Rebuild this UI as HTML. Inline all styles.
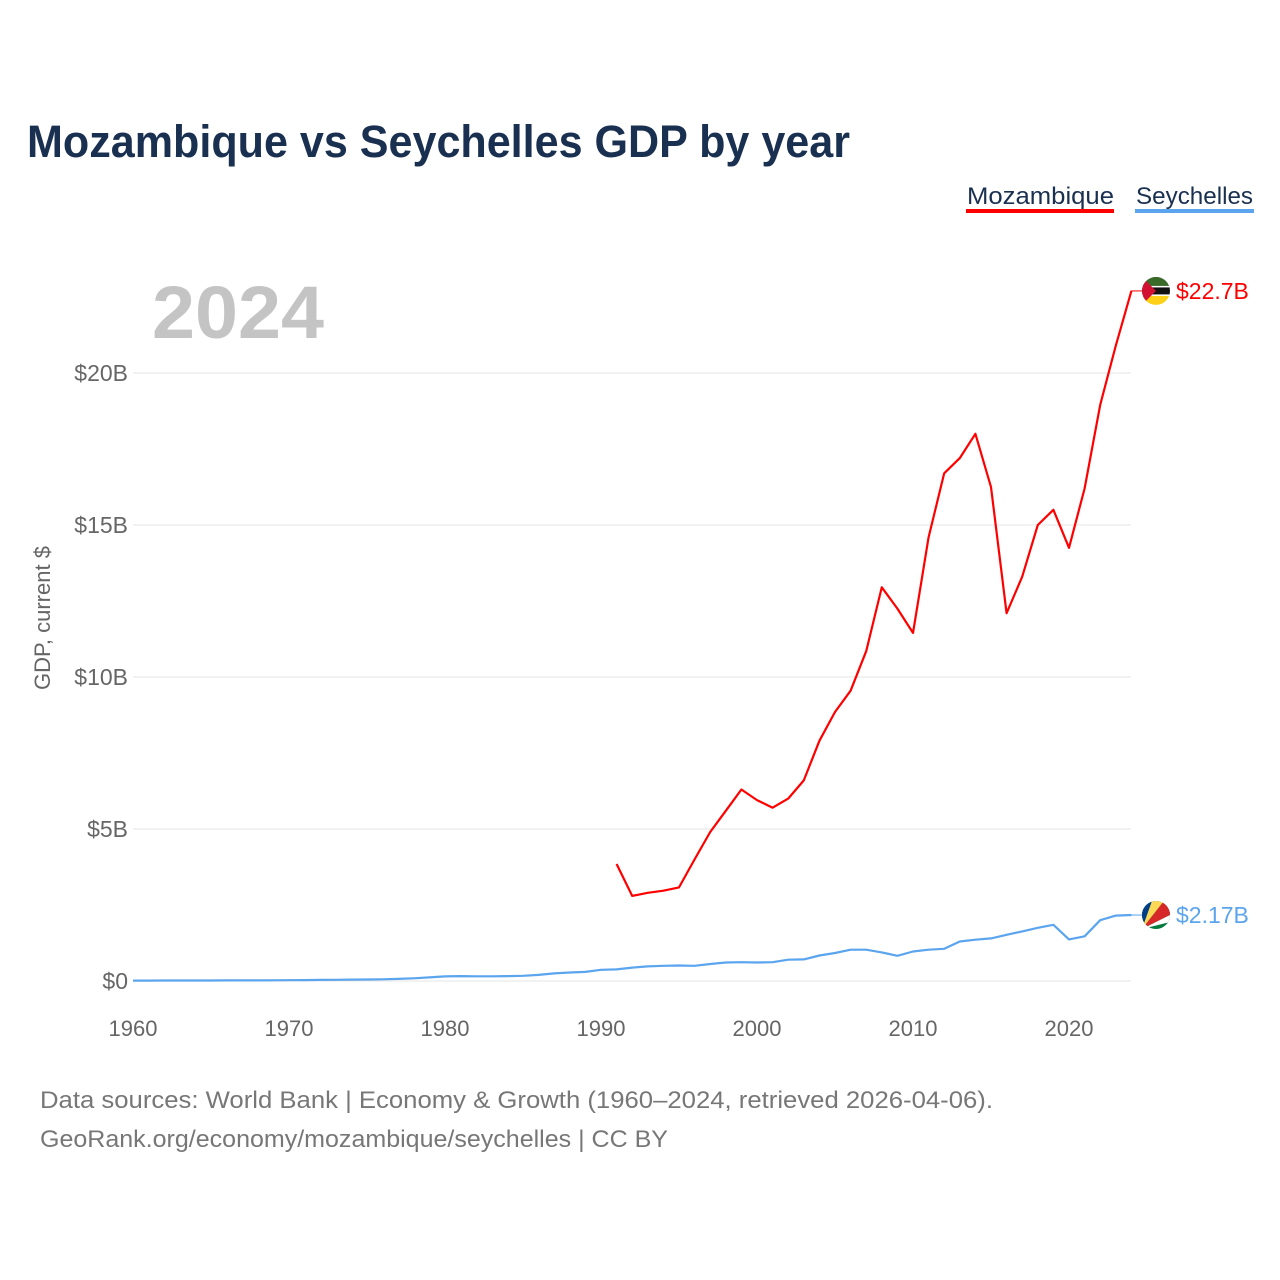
<!DOCTYPE html>
<html><head><meta charset="utf-8"><style>
body{margin:0;background:#fff;width:1280px;height:1280px;overflow:hidden;font-family:"Liberation Sans",sans-serif}
</style></head><body>
<svg width="1280" height="1280" style="position:absolute;left:0;top:0">
<text x="27" y="157" font-size="45" font-weight="bold" fill="#1a3050" textLength="823" lengthAdjust="spacingAndGlyphs">Mozambique vs Seychelles GDP by year</text>
<g><text x="967" y="204" font-size="24" fill="#1a3050" textLength="147" lengthAdjust="spacingAndGlyphs">Mozambique</text><rect x="966" y="209" width="148" height="4" fill="#ff0000"/></g>
<g><text x="1136" y="204" font-size="24" fill="#1a3050" textLength="117" lengthAdjust="spacingAndGlyphs">Seychelles</text><rect x="1135" y="209" width="119" height="4" fill="#5ba4ee"/></g>
<text x="152" y="338" font-size="74" font-weight="bold" fill="#c4c4c4" textLength="172" lengthAdjust="spacingAndGlyphs">2024</text>
<text transform="translate(50,618) rotate(-90)" text-anchor="middle" font-size="22" fill="#666">GDP, current $</text>
<g id="grid"></g><g id="series"></g>
<text x="40" y="1108" font-size="24" fill="#777" textLength="953" lengthAdjust="spacingAndGlyphs">Data sources: World Bank | Economy &amp; Growth (1960–2024, retrieved 2026-04-06).</text>
<text x="40" y="1147" font-size="24" fill="#777" textLength="628" lengthAdjust="spacingAndGlyphs">GeoRank.org/economy/mozambique/seychelles | CC BY</text>
</svg>
<script>
const yTicks=[0,5,10,15,20];
const yTickLabels=["$0","$5B","$10B","$15B","$20B"];
const xTicks=[1960,1970,1980,1990,2000,2010,2020];
const mozStart=1991;
const mozValues=[3.85,2.8,2.9,2.97,3.08,4.0,4.9,5.6,6.3,5.95,5.7,6.0,6.6,7.9,8.85,9.55,10.85,12.95,12.25,11.45,14.6,16.7,17.2,18.0,16.25,12.1,13.3,15.0,15.5,14.25,16.2,18.95,20.9,22.7];
const seyStart=1960;
const seyValues=[.013,.014,.015,.016,.017,.018,.019,.02,.02,.022,.025,.03,.035,.04,.045,.05,.055,.07,.09,.12,.15,.16,.155,.155,.16,.17,.2,.25,.28,.3,.37,.38,.44,.48,.5,.51,.5,.56,.61,.62,.61,.62,.7,.71,.84,.92,1.03,1.03,.94,.83,.97,1.03,1.06,1.3,1.36,1.4,1.52,1.63,1.75,1.85,1.37,1.47,2.0,2.15,2.17];
const endLabels=["$22.7B","$2.17B"];
const NS="http://www.w3.org/2000/svg";
const X=y=>133+(y-1960)*15.6;
const Y=v=>981-v*30.4;
function mk(t,a,p){const e=document.createElementNS(NS,t);for(const k in a)e.setAttribute(k,a[k]);p.appendChild(e);return e;}
const g=document.getElementById('grid'),s=document.getElementById('series');
yTicks.forEach((v,i)=>{
 const l=mk('line',{x1:133,x2:1131,y1:Y(v),y2:Y(v),stroke:'#e6e6e6','stroke-width':1},g);
 
 
 const t=mk('text',{x:128,y:Y(v)+8,'text-anchor':'end','font-size':23,fill:'#666'},g);t.textContent=yTickLabels[i];
 
 
});
xTicks.forEach(y=>{
 const t=mk('text',{x:X(y),y:1036,'text-anchor':'middle','font-size':22,fill:'#666'},g);t.textContent=y;
 
 
});
function line(vals,start,color,name){
 const d=vals.map((v,i)=>(i?'L':'M')+X(start+i).toFixed(1)+','+Y(v).toFixed(1)).join('');
 const p=mk('path',{d:d,fill:'none',stroke:color,'stroke-width':2.2,'stroke-linejoin':'round'},s);
 
 
}
line(seyValues,seyStart,'#5ba4ee','seychelles-line');
line(mozValues,mozStart,'#ff0000','mozambique-line');
function endMark(v,color,label,name,flag){
 const y=Y(v);
 mk('line',{x1:1131,x2:1142,y1:y,y2:y,stroke:color,'stroke-width':1},s);
 const f=mk('g',{},s);
 
 
 flag(f,1156,y);
 const t=mk('text',{x:1176,y:y+8,'font-size':23,fill:color},s);t.textContent=label;
 
 
}
endMark(mozValues[mozValues.length-1],'#ff0000',endLabels[0],'mozambique',(f,cx,cy)=>{
 const c=mk('clipPath',{id:'cm'},f);mk('circle',{cx:cx,cy:cy,r:14},c);
 const gg=mk('g',{'clip-path':'url(#cm)'},f);
 mk('rect',{x:cx-14,y:cy-14,width:28,height:10,fill:'#3a6a2a'},gg);
 mk('rect',{x:cx-14,y:cy-4,width:28,height:8,fill:'#111'},gg);
 mk('rect',{x:cx-14,y:cy-5,width:28,height:1.5,fill:'#fff'},gg);
 mk('rect',{x:cx-14,y:cy+3.5,width:28,height:1.5,fill:'#fff'},gg);
 mk('rect',{x:cx-14,y:cy+5,width:28,height:9,fill:'#fcd116'},gg);
 mk('path',{d:`M${cx-14},${cy-14}L${cx},${cy}L${cx-14},${cy+14}Z`,fill:'#d21034'},gg);
});
endMark(seyValues[seyValues.length-1],'#5ba4ee',endLabels[1],'seychelles',(f,cx,cy)=>{
 const c=mk('clipPath',{id:'cs'},f);mk('circle',{cx:cx,cy:cy,r:14},c);
 const gg=mk('g',{'clip-path':'url(#cs)'},f);
 const bx=cx-14,by=cy+14;
 mk('rect',{x:cx-14,y:cy-14,width:28,height:28,fill:'#007a3d'},gg);
 mk('path',{d:`M${bx},${by}L${bx},${cy-14}L${cx-4},${cy-14}Z`,fill:'#003f87'},gg);
 mk('path',{d:`M${bx},${by}L${cx-4},${cy-14}L${cx+8},${cy-14}Z`,fill:'#fcd856'},gg);
 mk('path',{d:`M${bx},${by}L${cx+8},${cy-14}L${cx+14},${cy-14}L${cx+14},${cy}Z`,fill:'#d62828'},gg);
 mk('path',{d:`M${bx},${by}L${cx+14},${cy}L${cx+14},${cy+7}Z`,fill:'#fff'},gg);
});
</script>
</body></html>
